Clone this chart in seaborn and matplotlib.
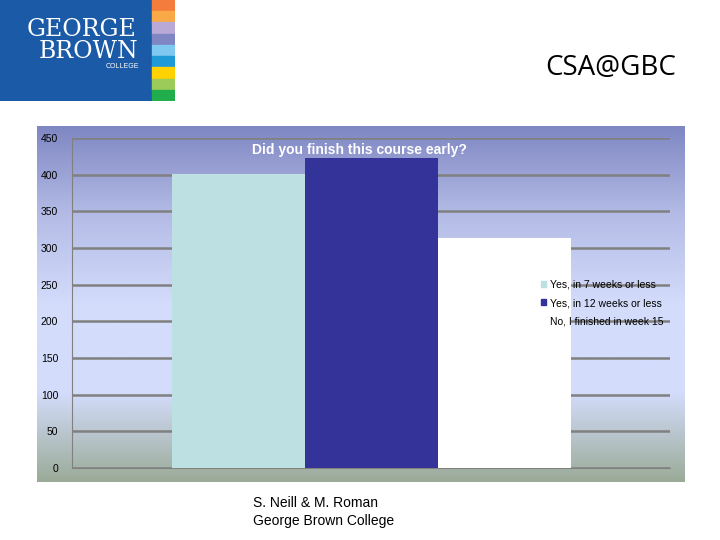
import numpy as np
import pandas as pd
import seaborn as sns
import matplotlib.pyplot as plt
from matplotlib.colors import LinearSegmentedColormap
from matplotlib.patches import Rectangle, Patch

answers = ["Yes, in 7 weeks or less", "Yes, in 12 weeks or less", "No, I finished in week 15"]
counts = [401, 423, 314]
colors = ["#bde0e3", "#333399", "#ffffff"]
df = pd.DataFrame({"answer": answers, "count": counts})

plt.rcParams["font.family"] = ["Liberation Sans", "DejaVu Sans"]
fig = plt.figure(figsize=(7.2, 5.4), dpi=100)
W, H = 720, 540

def fax(x0, y0, x1, y1):
    return fig.add_axes([x0 / W, 1 - y1 / H, (x1 - x0) / W, (y1 - y0) / H])

# gradient panel behind the chart
bg = fax(37, 126, 685, 482)
cmap = LinearSegmentedColormap.from_list("bg", ["#7f87c3", "#b4bce6", "#d3dcfb", "#d3dcfb", "#9bab98"])
grad = np.linspace(0, 1, 256).reshape(-1, 1)
bg.imshow(grad, aspect="auto", cmap=cmap, extent=[0, 1, 0, 1])
bg.axis("off")

ax = fax(72, 138, 670, 468)
ax.set_facecolor("none")
sns.barplot(data=df, x="answer", y="count", hue="answer", palette=colors,
            width=1.0, ax=ax, legend=False, zorder=3, saturation=1)
ax.set_xlim(-1.25, 3.24)
ax.set_ylim(0, 450)
ax.set_yticks(range(0, 451, 50))
ax.tick_params(axis="y", labelsize=7.5, length=0, pad=10)
ax.set_xticks([])
ax.set_xlabel("")
ax.set_ylabel("")
ax.grid(axis="y", color="#808080", linewidth=1.8, zorder=0)
for s in ["top", "right"]:
    ax.spines[s].set_visible(False)
ax.spines["left"].set_color("#808080")
ax.spines["bottom"].set_color("#808080")
ax.set_axisbelow(True)
ax.text(0.48, 0.985, "Did you finish this course early?", transform=ax.transAxes,
        ha="center", va="top", fontsize=10, fontweight="bold", color="white")
handles = [Patch(color=c) for c in colors]
ax.legend(handles, answers, loc="center right", bbox_to_anchor=(1.005, 0.5), frameon=False,
          fontsize=7.5, handlelength=0.5, handleheight=0.5, handletextpad=0.4, labelspacing=0.8)

# logo
lg = fax(0, 0, 175, 101)
lg.set_xlim(0, 175)
lg.set_ylim(101, 0)
lg.axis("off")
lg.add_patch(Rectangle((0, 0), 152, 101, color="#1b5aa6"))
stripes = ["#f47c3c", "#f9a945", "#b9a9d6", "#7f86c2", "#7fc8f0", "#1f9ad6", "#ffd200", "#9ccb5a", "#1fae4b"]
for i, c in enumerate(stripes):
    lg.add_patch(Rectangle((152, i * 101 / 9), 22, 101 / 9 + 0.3, color=c))
lg.text(82, 30, "GEORGE", ha="center", va="center", color="white", fontsize=17, family="serif")
lg.text(88, 52, "BROWN", ha="center", va="center", color="white", fontsize=17, family="serif")
lg.text(122, 66, "COLLEGE", ha="center", va="center", color="white", fontsize=5)

fig.text(676 / W, 1 - 68 / H, "CSA@GBC", ha="right", va="center", fontsize=20, family="Open Sans")
fig.text(253 / W, 1 - 512 / H, "S. Neill & M. Roman\nGeorge Brown College", ha="left", va="center",
         fontsize=10, linespacing=1.3)

fig.savefig("out.png", dpi=100)
